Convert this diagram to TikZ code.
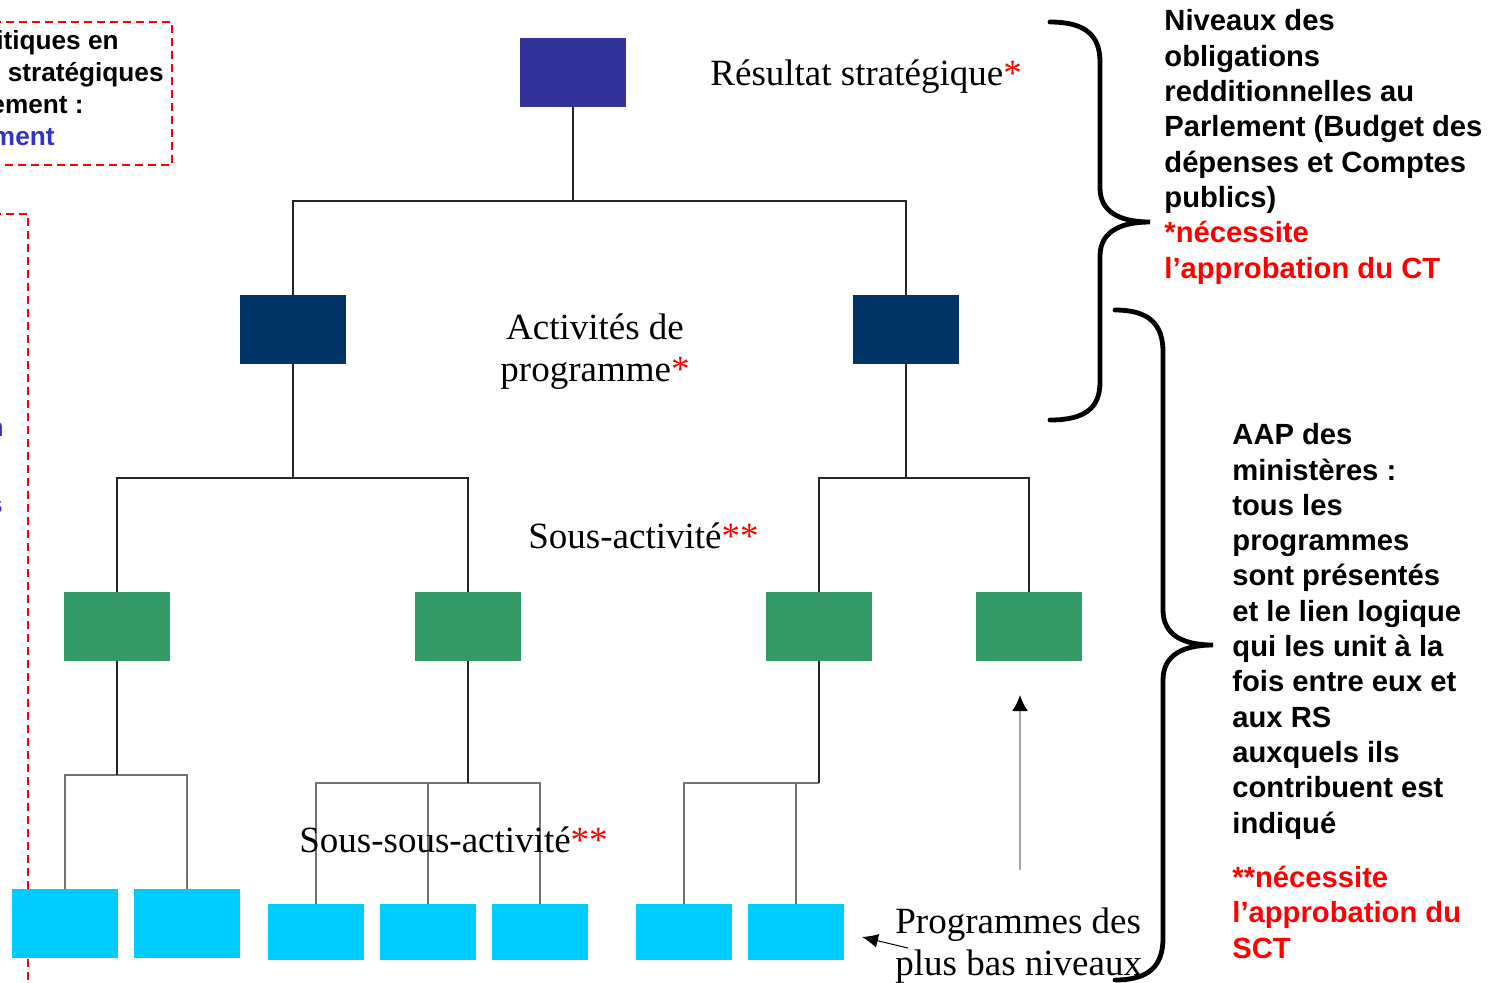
\documentclass[tikz,border=0pt]{standalone}
\usepackage{fontspec}
\setmainfont{Liberation Serif}
\setsansfont{Liberation Sans}
\usetikzlibrary{arrows.meta}
\definecolor{rsblue}{HTML}{333399}
\definecolor{apblue}{HTML}{003366}
\definecolor{sagreen}{HTML}{339966}
\definecolor{sscyan}{HTML}{00CCFF}
\definecolor{redst}{HTML}{FF0000}
\definecolor{bluetxt}{HTML}{3333CC}
\begin{document}
\begin{tikzpicture}[x=0.5pt,y=-0.5pt,
  bigbox/.style={inner sep=0pt, outer sep=0pt, minimum width=53pt, minimum height=34.5pt},
  rsbox/.style={bigbox, fill=rsblue},
  apbox/.style={bigbox, fill=apblue},
  sabox/.style={bigbox, fill=sagreen},
  ssboxa/.style={bigbox, fill=sscyan},
  ssboxb/.style={inner sep=0pt, outer sep=0pt, minimum width=48pt, minimum height=28pt, fill=sscyan},
  lbl/.style={font=\fontsize{18.5}{20.6}\selectfont, inner sep=0pt, align=left},
  note/.style={font=\sffamily\bfseries\fontsize{14.6}{17.65}\selectfont, inner sep=0pt, align=left},
  leftnote/.style={font=\sffamily\bfseries\fontsize{13.1}{16}\selectfont, inner sep=0pt},
  conn/.style={draw=black!85, line width=0.75pt},
  lconn/.style={draw=black!55, line width=1pt},
  dashbox/.style={draw=redst, line width=1pt, dash pattern=on 4pt off 2.5pt},
  bracepath/.style={draw=black, line width=2.4pt, line cap=round},
  tipgray/.style={draw=black!35, line width=1pt, -{Latex[length=8pt,width=8pt,color=black]}},
  tipblack/.style={draw=black, line width=0.5pt, -{Latex[length=8pt,width=7pt]}},
]
\useasboundingbox (0,0) rectangle (1508,982);

% left dashed boxes (cropped)
\draw[dashbox] (-20,22) -- (172,22) -- (172,165) -- (-20,165);
\draw[dashbox] (-20,214) -- (28,214) -- (28,1000);
\node[leftnote, anchor=base east] (t1) at (119,49) {olitiques en};
\node[leftnote, anchor=base east] (t2) at (164,81) {s stratégiques};
\node[leftnote, anchor=base east] (t3) at (84,113) {nnement :};
\node[leftnote, anchor=base east, text=bluetxt] (t4) at (55,145) {ement};
\node[leftnote, anchor=base east, text=bluetxt] (t5) at (4,436) {n};
\node[leftnote, anchor=base east, text=bluetxt] (t6) at (3,513) {s};

% boxes
\node[rsbox] (rs) at (573,72.5) {};
\node[apbox] (ap1) at (293,329.5) {};
\node[apbox] (ap2) at (906,329.5) {};
\node[sabox] (sa1) at (117,626.5) {};
\node[sabox] (sa2) at (468,626.5) {};
\node[sabox] (sa3) at (819,626.5) {};
\node[sabox] (sa4) at (1029,626.5) {};
\node[ssboxa] (c1) at (65,923.5) {};
\node[ssboxa] (c2) at (187,923.5) {};
\node[ssboxb] (c3) at (316,932) {};
\node[ssboxb] (c4) at (428,932) {};
\node[ssboxb] (c5) at (540,932) {};
\node[ssboxb] (c6) at (684,932) {};
\node[ssboxb] (c7) at (796,932) {};

% connectors
\coordinate (b0) at (573,201);
\coordinate (b1) at (293,478);
\coordinate (b2) at (906,478);
\coordinate (b3) at (117,775);
\coordinate (b4) at (468,783);
\coordinate (b5) at (819,783);
\draw[conn] (rs.south) -- (b0);
\draw[conn] (ap1.north) |- (b0) -| (ap2.north);
\draw[conn] (ap1.south) -- (b1);
\draw[conn] (sa1.north) |- (b1) -| (sa2.north);
\draw[conn] (ap2.south) -- (b2);
\draw[conn] (sa3.north) |- (b2) -| (sa4.north);
\draw[lconn] (c1.north) |- (b3) -| (c2.north);
\draw[lconn] (c3.north) |- (b4) -| (c5.north);
\draw[lconn] (c4.north) -- (c4.north |- b4);
\draw[lconn] (c6.north) |- (b5);
\draw[lconn] (c7.north) -- (c7.north |- b5);
\draw[conn] (sa1.south) -- (b3);
\draw[conn] (sa2.south) -- (b4);
\draw[conn] (sa3.south) -- (b5);

% level labels
\node[lbl, anchor=base west] (lrs) at (710,85) {Résultat stratégique\textcolor{redst}{*}};
\node[lbl, align=center, anchor=base] (lap) at (595,381) {Activités de\\programme\textcolor{redst}{*}};
\node[lbl, anchor=base west] (lsa) at (528,548) {Sous-activité\textcolor{redst}{**}};
\node[lbl, anchor=base west] (lss) at (299,852) {Sous-sous-activité\textcolor{redst}{**}};
\node[lbl, anchor=base west] (lpb) at (895,975) {Programmes des\\plus bas niveaux};

% arrows
\coordinate (ga1) at (1020,870);
\coordinate (ga2) at (1020,695);
\draw[tipgray] (ga1) -- (ga2);
\coordinate (pa1) at (908,948);
\coordinate (pa2) at (862,937);
\draw[tipblack] (pa1) -- (pa2);

% braces
\draw[bracepath] (1050,22) .. controls (1085,22) and (1100,35) .. (1100,62) -- (1100,188)
  .. controls (1100,212) and (1120,222) .. (1150,222)
  .. controls (1120,222) and (1100,232) .. (1100,256) -- (1100,382)
  .. controls (1100,408) and (1085,420) .. (1050,420);
\draw[bracepath] (1115,310) .. controls (1150,310) and (1163,325) .. (1163,352) -- (1163,610)
  .. controls (1163,635) and (1183,645) .. (1213,645)
  .. controls (1183,645) and (1163,655) .. (1163,680) -- (1163,938)
  .. controls (1163,965) and (1150,980) .. (1115,980);

% side notes
\node[note, anchor=base west] (n1) at (1164,278) {Niveaux des\\obligations\\redditionnelles au\\Parlement (Budget des\\dépenses et Comptes\\publics)\\\textcolor{redst}{*nécessite}\\\textcolor{redst}{l’approbation du CT}};
\node[note, anchor=base west] (n2) at (1232,833) {AAP des\\ministères :\\tous les\\programmes\\sont présentés\\et le lien logique\\qui les unit à la\\fois entre eux et\\aux RS\\auxquels ils\\contribuent est\\indiqué};
\node[note, anchor=base west, text=redst] (n3) at (1232,958) {**nécessite\\l’approbation du\\SCT};
\end{tikzpicture}
\end{document}
